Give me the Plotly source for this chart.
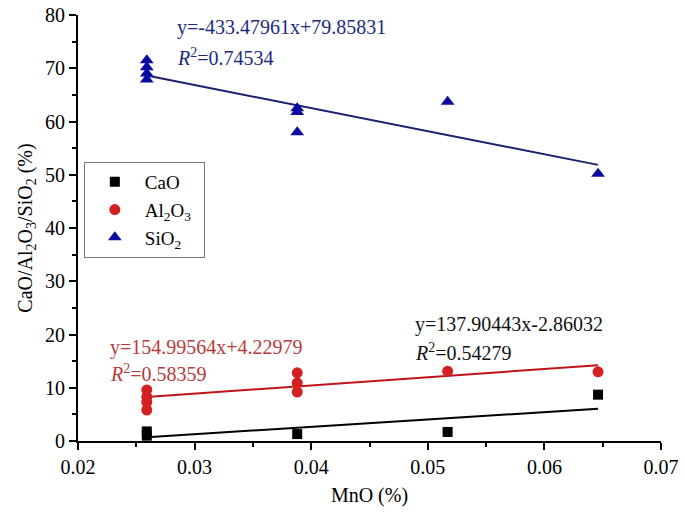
import plotly.graph_objects as go

# MnO content (%) for each sample group
mno_cao = [0.0259, 0.0259, 0.0388, 0.0517, 0.0646]
cao = [1.8, 1.0, 1.3, 1.7, 8.7]

mno_al = [0.0259, 0.0259, 0.0259, 0.0259, 0.0388, 0.0388, 0.0388, 0.0517, 0.0646]
al2o3 = [9.6, 8.3, 7.3, 5.8, 12.8, 10.9, 9.2, 13.1, 13.0]

mno_si = [0.0259, 0.0259, 0.0259, 0.0259, 0.0388, 0.0388, 0.0388, 0.0517, 0.0646]
sio2 = [71.5, 70.2, 69.0, 67.9, 62.5, 61.8, 58.0, 63.7, 50.2]

# linear fits: slope, intercept, R2
fit_cao = (137.90443, -2.86032, 0.54279)
fit_al = (154.99564, 4.22979, 0.58359)
fit_si = (-433.47961, 79.85831, 0.74534)
fit_range = [0.0259, 0.0646]

font = "Liberation Serif, Times New Roman, serif"
navy = "#1c2a80"
red = "#b83a3a"
pad = "\u00a0" * 4

fig = go.Figure()


def fit_line(fit, color):
    xs = fit_range
    ys = [fit[0] * x + fit[1] for x in xs]
    fig.add_trace(go.Scatter(x=xs, y=ys, mode="lines", showlegend=False,
                             line=dict(color=color, width=2), hoverinfo="skip"))


fit_line(fit_cao, "#000000")
fit_line(fit_al, "#c0141a")
fit_line(fit_si, "#1a1f70")

fig.add_trace(go.Scatter(x=mno_cao, y=cao, mode="markers", name="CaO" + pad,
                         marker=dict(symbol="square", size=10, color="#000000")))
fig.add_trace(go.Scatter(x=mno_al, y=al2o3, mode="markers", name="Al<sub>2</sub>O<sub>3</sub>",
                         marker=dict(symbol="circle", size=11, color="#d42020")))
fig.add_trace(go.Scatter(x=mno_si, y=sio2, mode="markers", name="SiO<sub>2</sub>",
                         marker=dict(symbol="triangle-up", size=12, color="#0a0aa0")))


def eq_text(fit):
    sign = "+" if fit[1] >= 0 else "-"
    return f"y={fit[0]:.5f}x{sign}{abs(fit[1]):.5f}"


# x of left edge, y of the equation line, y of the R2 line
labels = [
    (fit_si, 0.02835, 77.6, 72.2, navy),
    (fit_al, 0.02255, 17.6, 12.7, red),
    (fit_cao, 0.04873, 21.8, 16.7, "#111111"),
]
for fit, x0, y1, y2, color in labels:
    fig.add_annotation(x=x0, y=y1, text=eq_text(fit), showarrow=False, xanchor="left",
                       font=dict(family=font, size=20, color=color))
    fig.add_annotation(x=x0, y=y2, text=f"<i>R</i><sup>2</sup>={fit[2]:.5f}", showarrow=False,
                       xanchor="left", font=dict(family=font, size=20, color=color))

axis_common = dict(
    showline=True, linecolor="black", linewidth=2, ticks="outside", ticklen=7,
    tickwidth=2, tickcolor="black", showgrid=False, zeroline=False, mirror=False,
    automargin=False,
    tickfont=dict(family=font, size=20, color="black"),
)

fig.update_xaxes(range=[0.02, 0.07], dtick=0.01, tickformat=".2f", title_text="MnO (%)",
                 title_standoff=11, title_font=dict(family=font, size=20, color="black"),
                 minor=dict(dtick=0.005, ticks="outside", ticklen=4, tickcolor="black"),
                 **axis_common)
fig.update_yaxes(range=[0, 80], dtick=10,
                 title_text="CaO/Al<sub>2</sub>O<sub>3</sub>/SiO<sub>2</sub> (%)",
                 title_standoff=7, title_font=dict(family=font, size=20, color="black"),
                 minor=dict(dtick=5, ticks="outside", ticklen=4, tickcolor="black"),
                 **axis_common)

fig.update_layout(
    width=685, height=522,
    margin=dict(l=78, r=24, t=15, b=81),
    plot_bgcolor="white", paper_bgcolor="white",
    legend=dict(x=0.01, y=0.655, xanchor="left", yanchor="top",
                bordercolor="#777777", borderwidth=1, bgcolor="white",
                font=dict(family=font, size=19, color="black"),
                itemwidth=50, tracegroupgap=2),
)

fig.write_html("out.html", config={"displayModeBar": False},
               post_script="document.body.style.margin='0';")
